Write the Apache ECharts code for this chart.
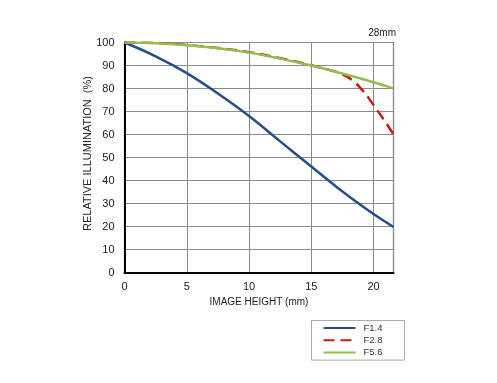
<!DOCTYPE html>
<html><head><meta charset="utf-8">
<script src="https://cdn.jsdelivr.net/npm/echarts@6/dist/echarts.min.js"></script>
<style>html,body{margin:0;padding:0;background:#fff}#c{width:497px;height:383px}</style>
</head><body><div id="c"></div>
<script>
const xF14 = [0, 2.5, 5, 7.5, 10, 12.5, 15, 17.5, 20, 21.6];
const yF14 = [100, 94, 86.7, 77.8, 68, 57, 46.1, 35.2, 25.4, 19.8];
const xF28 = [0, 2.5, 5, 7.5, 10, 12.5, 15, 16.5, 17.5, 18.3, 19.1, 20, 21, 21.6];
const yF28 = [100, 99.8, 98.9, 97.6, 95.8, 93.2, 90.1, 88, 86.2, 83.6, 79.3, 72.8, 65, 60];
const xF56 = [0, 2.5, 5, 7.5, 10, 12.5, 15, 17.5, 20, 21.6];
const yF56 = [100, 99.7, 98.8, 97.5, 95.6, 93, 90, 86.5, 82.7, 80];
const seriesNames = ['F1.4', 'F2.8', 'F5.6'];
const xTicks = [0, 5, 10, 15, 20];
const yTicks = [0, 10, 20, 30, 40, 50, 60, 70, 80, 90, 100];

const zip = (a, b) => a.map((v, i) => [v, b[i]]);
const font = '"Liberation Sans", Arial, sans-serif';
const chart = echarts.init(document.getElementById('c'), null, {renderer: 'canvas'});
chart.setOption({
  animation: false,
  title: {text: '28mm', right: 101, top: 28, padding: 0, textStyle: {fontSize: 10, fontWeight: 'normal', color: '#222', fontFamily: font}},
  grid: {left: 124.5, right: 103.5, top: 42.5, bottom: 110.5, show: true, borderColor: '#333', borderWidth: 1.2},
  legend: {
    orient: 'vertical', left: 311.5, top: 320.5,
    padding: [2, 22, 2, 11], itemWidth: 32, itemHeight: 14, itemGap: 1,
    borderColor: '#aaa', borderWidth: 1,
    itemStyle: {color: 'transparent', borderWidth: 0, opacity: 0},
    textStyle: {fontSize: 9.5, color: '#333', fontFamily: font, padding: [0, 0, 0, 3]},
    data: seriesNames
  },
  xAxis: {
    type: 'value', min: 0, max: 21.6, interval: 5,
    name: 'IMAGE HEIGHT (mm)', nameLocation: 'middle', nameGap: 25, nameMoveOverlap: false,
    nameTextStyle: {fontSize: 10, color: '#222', fontFamily: font},
    axisLine: {show: true, lineStyle: {color: '#000', width: 2}},
    axisTick: {show: false},
    axisLabel: {fontSize: 11, color: '#222', fontFamily: font, margin: 9,
      formatter: v => xTicks.includes(v) ? String(v) : ''},
    splitLine: {show: true, lineStyle: {color: '#8a8a8a', width: 1}}
  },
  yAxis: {
    type: 'value', min: 0, max: 100, interval: 10,
    name: 'RELATIVE ILLUMINATION  (%)', nameLocation: 'middle', nameGap: 31, nameRotate: 90, nameMoveOverlap: false,
    nameTextStyle: {fontSize: 11, color: '#222', fontFamily: font, padding: [0, 0, 0, 8]},
    axisLine: {show: true, lineStyle: {color: '#000', width: 2}},
    axisTick: {show: false},
    axisLabel: {fontSize: 11, color: '#222', fontFamily: font, margin: 10,
      formatter: v => yTicks.includes(v) ? String(v) : ''},
    splitLine: {show: true, lineStyle: {color: '#8a8a8a', width: 1}}
  },
  series: [
    {name: seriesNames[0], type: 'line', smooth: 0.4, showSymbol: false, symbol: 'none', z: 3,
     data: zip(xF14, yF14), lineStyle: {color: '#234e8c', width: 2.5}, itemStyle: {color: '#234e8c'}},
    {name: seriesNames[1], type: 'line', smooth: 0.4, showSymbol: false, symbol: 'none', z: 2,
     data: zip(xF28, yF28), lineStyle: {color: '#cc1818', width: 2.5, type: [11, 6]}, itemStyle: {color: '#cc1818'}},
    {name: seriesNames[2], type: 'line', smooth: 0.4, showSymbol: false, symbol: 'none', z: 4,
     data: zip(xF56, yF56), lineStyle: {color: '#92bf4c', width: 2.5}, itemStyle: {color: '#92bf4c'}}
  ]
});
</script></body></html>
